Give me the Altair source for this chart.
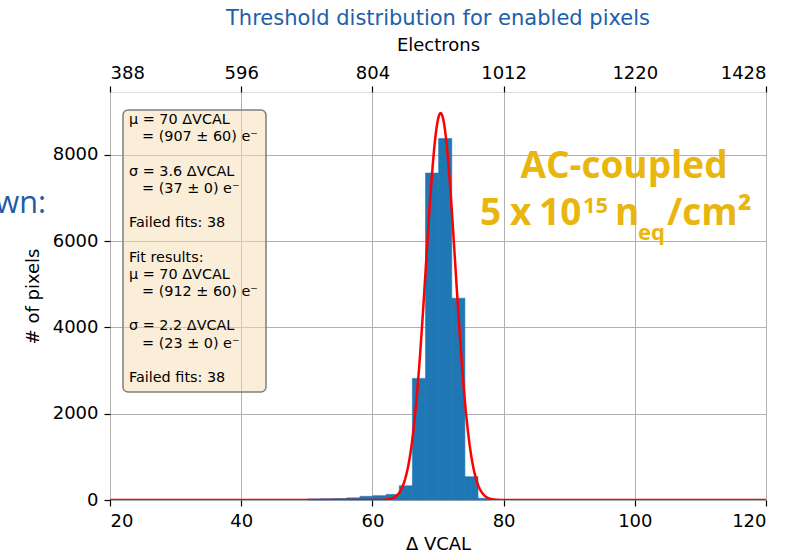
import altair as alt
import numpy as np
import pandas as pd

# Histogram of threshold values (ΔVCAL), bins of width 2
bin_starts = [50.1, 52.1, 54.1, 56.1, 58.1, 60.1, 62.1, 64.1, 66.1, 68.1, 70.1, 72.1, 74.1, 76.1]
counts = [25, 30, 35, 50, 85, 100, 130, 330, 2820, 7580, 8380, 4680, 540, 40]
bin_width = 2.0

# Gaussian fit parameters
fit_mu = 70.4
fit_sigma = 2.24
fit_amp = 8970

x_ticks = [20, 40, 60, 80, 100, 120]
electron_labels = ["388", "596", "804", "1012", "1220", "1428"]
y_ticks = [0, 2000, 4000, 6000, 8000]

# Info box: (line slot, indented?, text); empty slots are blank lines
box_lines = [
    (0, False, "μ = 70 ΔVCAL"),
    (1, True, "= (907 ± 60) e⁻"),
    (3, False, "σ = 3.6 ΔVCAL"),
    (4, True, "= (37 ± 0) e⁻"),
    (6, False, "Failed fits: 38"),
    (8, False, "Fit results:"),
    (9, False, "μ = 70 ΔVCAL"),
    (10, True, "= (912 ± 60) e⁻"),
    (12, False, "σ = 2.2 ΔVCAL"),
    (13, True, "= (23 ± 0) e⁻"),
    (15, False, "Failed fits: 38"),
]

hist = pd.DataFrame({
    "start": bin_starts,
    "end": [s + bin_width for s in bin_starts],
    "count": counts,
})

xs = np.linspace(20, 120, 1001)
fit = pd.DataFrame({
    "x": xs,
    "y": fit_amp * np.exp(-0.5 * ((xs - fit_mu) / fit_sigma) ** 2),
})

LINE_H = 17.2
box_df = pd.DataFrame({
    "text": [t for _, _, t in box_lines],
    "px": [32 if ind else 19 for _, ind, _ in box_lines],
    "py": [28 + slot * LINE_H for slot, _, _ in box_lines],
})

FONT = "DejaVu Sans"
BLUE = "#2060a8"
GOLD = "#e9b60f"
BAR = "#1f77b4"

x_scale = alt.Scale(domain=[20, 120], nice=False, zero=False)
y_scale = alt.Scale(domain=[0, 9460], nice=False)

x_axis = alt.Axis(
    values=x_ticks, title="Δ VCAL", format="d",
    labelFontSize=18, titleFontSize=18, labelFont=FONT, titleFont=FONT,
    titleFontWeight="normal", labelColor="black", titleColor="black",
    tickSize=6, tickColor="black", tickWidth=1.2, domain=False,
    grid=True, gridColor="#b0b0b0", gridWidth=1,
    labelPadding=6, titlePadding=5,
)
y_axis = alt.Axis(
    values=y_ticks, title="# of pixels", format="d",
    labelFontSize=18, titleFontSize=18, labelFont=FONT, titleFont=FONT,
    titleFontWeight="normal", labelColor="black", titleColor="black",
    tickSize=6, tickColor="black", tickWidth=1.2, domain=False,
    grid=True, gridColor="#b0b0b0", gridWidth=1,
    labelPadding=6, titlePadding=10,
)
label_expr = "[" + ",".join(f"'{s}'" for s in electron_labels) + "][round((datum.value-20)/20)]"
top_axis = alt.Axis(
    orient="top", values=x_ticks, title="Electrons", labelExpr=label_expr,
    labelFontSize=18, titleFontSize=18, labelFont=FONT, titleFont=FONT,
    titleFontWeight="normal", labelColor="black", titleColor="black",
    tickSize=6, tickColor="black", tickWidth=1.2, domain=False, grid=False,
    labelPadding=4, titlePadding=10,
)

bars = alt.Chart(hist).mark_rect(color=BAR, stroke=BAR, strokeWidth=0.6).encode(
    x=alt.X("start:Q", scale=x_scale, axis=x_axis),
    x2="end:Q",
    y=alt.Y("count:Q", scale=y_scale, axis=y_axis),
    y2=alt.datum(0),
)

curve = alt.Chart(fit).mark_line(color="#ff0000", strokeWidth=2.5, clip=True).encode(
    x=alt.X("x:Q", scale=x_scale, axis=None),
    y=alt.Y("y:Q", scale=y_scale, axis=y_axis),
)

top = alt.Chart(pd.DataFrame({"t": x_ticks})).mark_point(opacity=0).encode(
    x=alt.X("t:Q", scale=x_scale, axis=top_axis),
)

one = alt.Data(values=[{}])

box = alt.Chart(one).mark_rect(
    fill="#f5deb3", fillOpacity=0.5, stroke="#7f7f7f", strokeWidth=1.5, cornerRadius=5
).encode(x=alt.value(13), x2=alt.value(156), y=alt.value(18), y2=alt.value(300))

box_text = alt.Chart(box_df).mark_text(
    align="left", baseline="middle", font=FONT, fontSize=14.4, color="black",
).encode(
    x=alt.X("px:Q", scale=None, axis=None),
    y=alt.Y("py:Q", scale=None, axis=None),
    text="text:N",
)


def label(text, x, y, size, weight="bold", align="left", color=GOLD, font="Open Sans"):
    return alt.Chart(one).mark_text(
        text=text, align=align, baseline="alphabetic", font=font,
        fontSize=size, fontWeight=weight, color=color,
    ).encode(x=alt.value(x), y=alt.value(y))


# "AC-coupled / 5 x 10^15 n_eq/cm²" annotation, built from pieces
ac_parts = [
    label("AC-coupled", 514, 86, 37, align="center"),
    label("5", 370, 133, 37),
    label("x", 400, 133, 37),
    label("10", 429, 133, 37),
    label("15", 473, 121, 22),
    label("n", 505, 133, 37),
    label("eq", 528, 148, 22),
    label("/cm²", 557, 133, 37),
    label("wn:", -64, 121, 30.6, weight="normal", align="right", color="#1f5ca8"),
]

chart = alt.layer(bars, curve, top, box, box_text, *ac_parts).resolve_axis(
    x="independent"
).properties(
    width=656,
    height=408,
    title=alt.TitleParams(
        "Threshold distribution for enabled pixels", color=BLUE, fontSize=21,
        font=FONT, fontWeight="normal", anchor="middle", offset=7,
    ),
    autosize=alt.AutoSizeParams(type="none"),
    padding={"left": 110, "top": 92, "right": 36, "bottom": 54},
).configure_view(
    stroke="black", strokeWidth=1.4
).configure(background="white")

chart.save("out.html", embed_options={"renderer": "svg", "actions": False})
